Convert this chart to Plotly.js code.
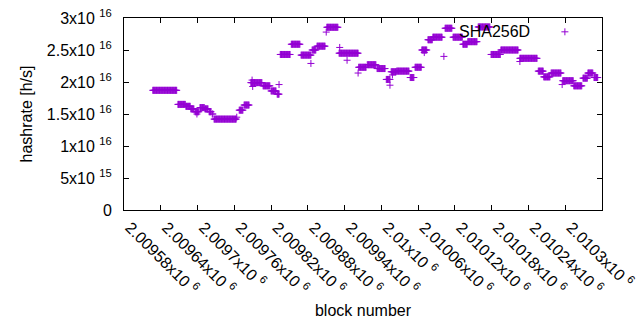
<!DOCTYPE html>
<html>
<head>
<meta charset="utf-8">
<script src="https://cdn.plot.ly/plotly-3.0.1.min.js"></script>
<style>
  html, body { margin: 0; padding: 0; background: #ffffff; }
  #chart { width: 640px; height: 330px; }
</style>
</head>
<body>
<div id="chart"></div>
<script>
// Series name
const seriesName = 'SHA256D';

// Hashrate is constant over runs of consecutive blocks (run-length encoded)
const runStart = [2009627, 2009668, 2009681, 2009689, 2009696, 2009704, 2009712, 2009719, 2009724, 2009727,
                  2009768, 2009776, 2009787, 2009807, 2009820, 2009830, 2009835, 2009853, 2009869, 2009887,
                  2009895, 2009911, 2009931, 2009963, 2009977, 2009993, 2010008, 2010016, 2010025, 2010047,
                  2010055, 2010066, 2010076, 2010084, 2010104, 2010117, 2010133, 2010141, 2010158, 2010179,
                  2010195, 2010226, 2010256, 2010265, 2010277, 2010296, 2010314, 2010329, 2010337, 2010347];
const runEnd   = [2009666, 2009680, 2009688, 2009694, 2009702, 2009711, 2009717, 2009722, 2009725, 2009763,
                  2009774, 2009784, 2009805, 2009818, 2009828, 2009833, 2009851, 2009867, 2009885, 2009893,
                  2009908, 2009929, 2009962, 2009975, 2009991, 2010006, 2010014, 2010024, 2010045, 2010053,
                  2010065, 2010074, 2010083, 2010099, 2010115, 2010132, 2010140, 2010156, 2010177, 2010194,
                  2010223, 2010254, 2010264, 2010275, 2010293, 2010313, 2010327, 2010336, 2010345, 2010353];
const runValue = [1.87e16, 1.65e16, 1.62e16, 1.58e16, 1.535e16, 1.60e16, 1.58e16, 1.535e16, 1.50e16, 1.42e16,
                  1.56e16, 1.64e16, 1.99e16, 1.94e16, 1.86e16, 1.81e16, 2.43e16, 2.59e16, 2.42e16, 2.50e16,
                  2.56e16, 2.855e16, 2.45e16, 2.23e16, 2.27e16, 2.21e16, 2.04e16, 2.16e16, 2.17e16, 2.07e16,
                  2.23e16, 2.50e16, 2.66e16, 2.70e16, 2.84e16, 2.70e16, 2.59e16, 2.63e16, 2.86e16, 2.43e16,
                  2.50e16, 2.37e16, 2.17e16, 2.08e16, 2.14e16, 2.02e16, 1.94e16, 2.06e16, 2.14e16, 2.07e16];

// Isolated points off the plateaus
const pointBlock = [2009699, 2009764, 2009789, 2009790, 2009833, 2009885, 2009910, 2009932, 2009944, 2009962,
                    2010014, 2010018, 2010070, 2010102, 2010226, 2010295];
const pointValue = [1.50e16, 1.45e16, 2.03e16, 1.93e16, 1.96e16, 2.29e16, 2.78e16, 2.54e16, 2.34e16, 2.14e16,
                    1.95e16, 2.11e16, 2.46e16, 2.40e16, 2.32e16, 1.96e16];

// Axis ticks
const xTickVals = [2009580, 2009640, 2009700, 2009760, 2009820, 2009880, 2009940, 2010000,
                   2010060, 2010120, 2010180, 2010240, 2010300, 2010360];
const xTickText = ['2.00958x10 <sup>6</sup>', '2.00964x10 <sup>6</sup>', '2.0097x10 <sup>6</sup>', '2.00976x10 <sup>6</sup>',
                   '2.00982x10 <sup>6</sup>', '2.00988x10 <sup>6</sup>', '2.00994x10 <sup>6</sup>', '2.01x10 <sup>6</sup>',
                   '2.01006x10 <sup>6</sup>', '2.01012x10 <sup>6</sup>', '2.01018x10 <sup>6</sup>', '2.01024x10 <sup>6</sup>',
                   '2.0103x10 <sup>6</sup>', '2.01036x10 <sup>6</sup>'];
const yTickVals = [0, 5e15, 1e16, 1.5e16, 2e16, 2.5e16, 3e16];
const yTickText = ['0', '5x10 <sup>15</sup>', '1x10 <sup>16</sup>', '1.5x10 <sup>16</sup>',
                   '2x10 <sup>16</sup>', '2.5x10 <sup>16</sup>', '3x10 <sup>16</sup>'];

// Expand the runs into one point per block
const xs = [], ys = [];
for (let i = 0; i < runStart.length; i++) {
  for (let b = runStart[i]; b <= runEnd[i]; b++) { xs.push(b); ys.push(runValue[i]); }
}
for (let i = 0; i < pointBlock.length; i++) { xs.push(pointBlock[i]); ys.push(pointValue[i]); }

const purple = '#9400d3';
const fontFam = '"Liberation Sans", Arial, sans-serif';

const trace = {
  type: 'scatter', mode: 'markers', x: xs, y: ys, name: '',
  marker: { symbol: 'cross-thin', size: 5, color: purple, line: { width: 1, color: purple } },
  cliponaxis: false, hoverinfo: 'skip'
};

const axisCommon = {
  showline: true, linecolor: '#000', linewidth: 1, mirror: 'ticks',
  ticks: 'inside', ticklen: 5, tickcolor: '#000', tickwidth: 1,
  showgrid: false, zeroline: false, tickmode: 'array',
  tickfont: { family: fontFam, size: 16, color: '#000' }
};

const layout = {
  width: 640, height: 330,
  margin: { l: 124, r: 38, t: 18, b: 120 },
  paper_bgcolor: '#fff', plot_bgcolor: '#fff',
  font: { family: fontFam, size: 16, color: '#000' },
  showlegend: true,
  legend: { x: 0.8805, y: 1.016, xanchor: 'left', yanchor: 'top', bgcolor: 'rgba(0,0,0,0)',
            font: { family: fontFam, size: 16 }, itemwidth: 30 },
  xaxis: Object.assign({}, axisCommon, {
    range: [2009580, 2010360], tickvals: xTickVals, ticktext: xTickText, tickangle: 45,
    ticklabelstandoff: 1, ticklabelshift: 6,
    title: { text: 'block number', font: { family: fontFam, size: 16 }, standoff: 8 },
    automargin: false
  }),
  yaxis: Object.assign({}, axisCommon, {
    range: [0, 3e16], tickvals: yTickVals, ticktext: yTickText,
    ticklabelstandoff: 8,
    title: { text: 'hashrate [h/s]', font: { family: fontFam, size: 16 }, standoff: 10 },
    automargin: false
  }),
  annotations: [{
    xref: 'paper', yref: 'paper', x: (532 - 124) / 478, y: (210 - 32) / 192,
    xanchor: 'right', yanchor: 'middle', showarrow: false, text: seriesName,
    font: { family: fontFam, size: 16, color: '#000' }
  }]
};

Plotly.newPlot('chart', [trace], layout, { displayModeBar: false, staticPlot: true });
</script>
</body>
</html>
